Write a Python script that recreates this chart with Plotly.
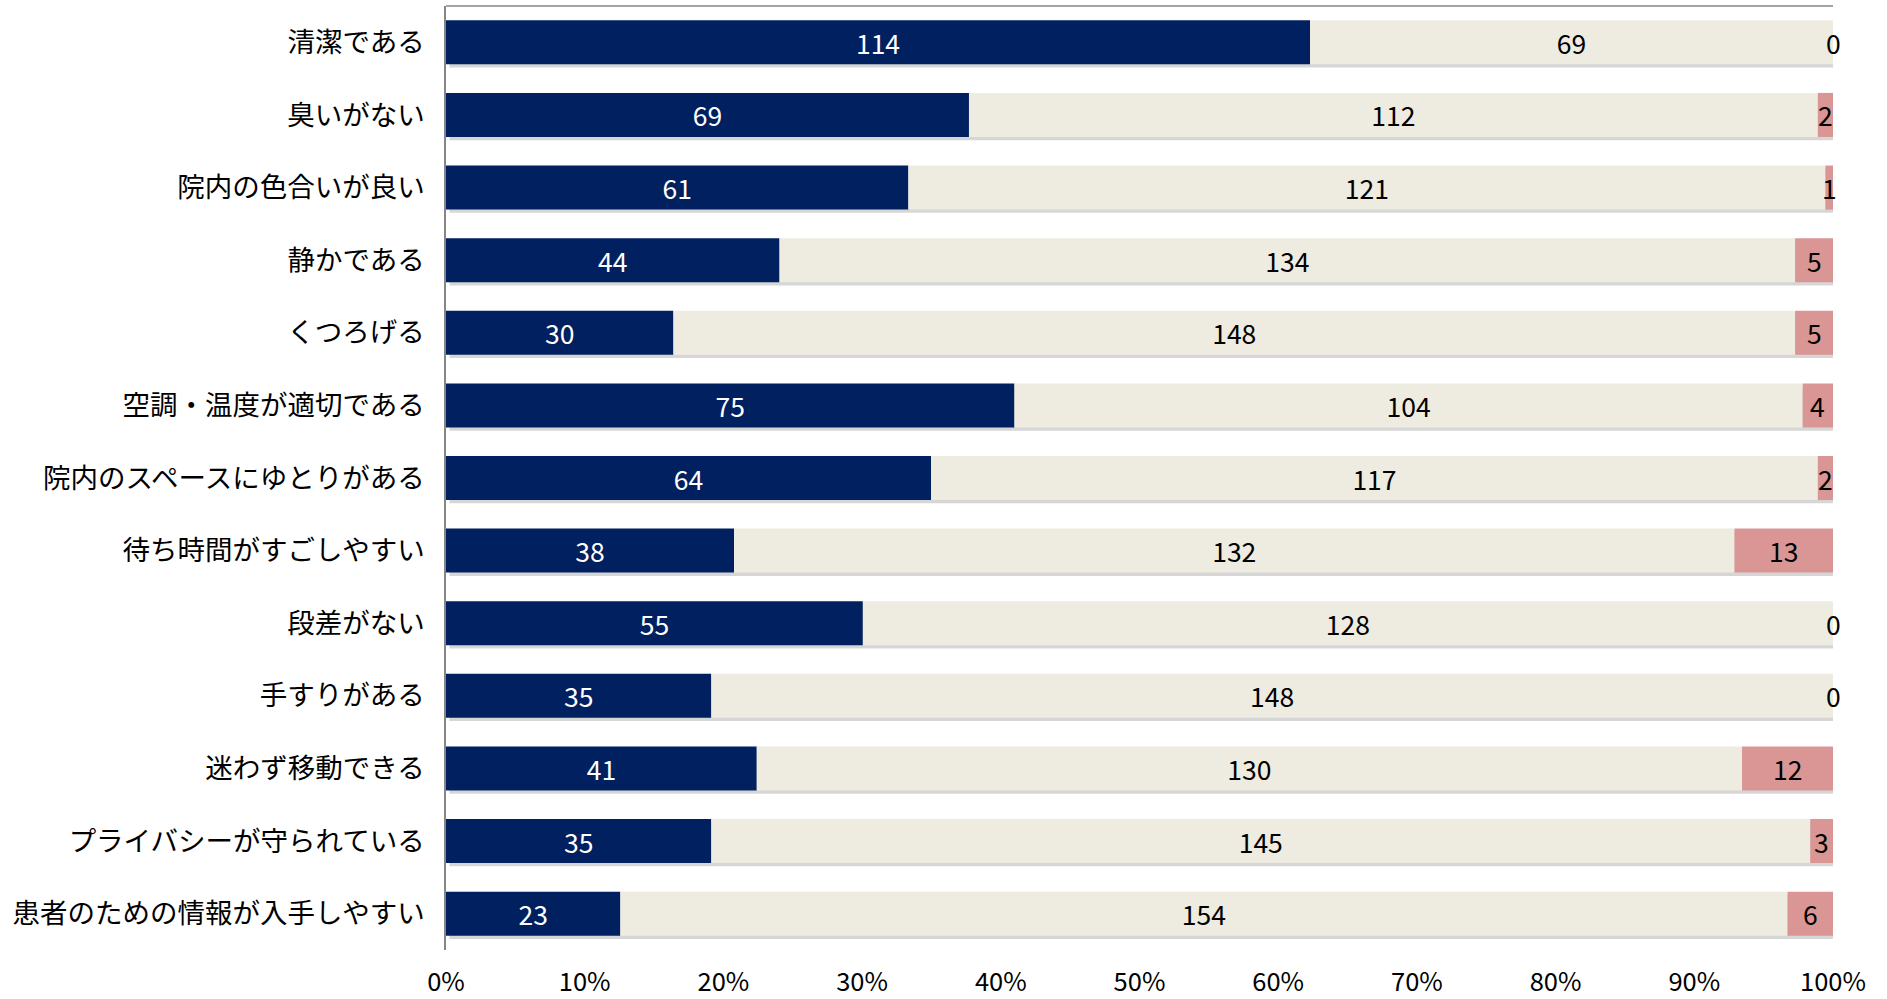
import plotly.graph_objects as go

categories = ["清潔である", "臭いがない", "院内の色合いが良い", "静かである", "くつろげる",
              "空調・温度が適切である", "院内のスペースにゆとりがある", "待ち時間がすごしやすい",
              "段差がない", "手すりがある", "迷わず移動できる", "プライバシーが守られている",
              "患者のための情報が入手しやすい"]
series_a = [114, 69, 61, 44, 30, 75, 64, 38, 55, 35, 41, 35, 23]
series_b = [69, 112, 121, 134, 148, 104, 117, 132, 128, 148, 130, 145, 154]
series_c = [0, 2, 1, 5, 5, 4, 2, 13, 0, 0, 12, 3, 6]
tick_vals = [0, 10, 20, 30, 40, 50, 60, 70, 80, 90, 100]
tick_text = [f"{v}%" for v in tick_vals]

colors = ["#002060", "#EEEBE0", "#D99694"]
FONT = "Noto Sans CJK JP"
LABEL_SIZE = 26.5

totals = [a + b + c for a, b, c in zip(series_a, series_b, series_c)]
pa = [a / t * 100 for a, t in zip(series_a, totals)]
pb = [b / t * 100 for b, t in zip(series_b, totals)]
pc = [c / t * 100 for c, t in zip(series_c, totals)]

W = 0.606
fig = go.Figure()
# subtle shadow
fig.add_trace(go.Bar(y=categories, x=[100] * len(categories), base=[0.25] * len(categories),
                     orientation="h", width=W, offset=-W / 2 + 0.045,
                     marker=dict(color="rgba(0,0,0,0.16)", line=dict(width=0)),
                     hoverinfo="skip", showlegend=False))
fig.add_trace(go.Bar(y=categories, x=pa, base=[0] * len(categories), orientation="h",
                     width=W, offset=-W / 2,
                     marker=dict(color=colors[0], line=dict(width=0)),
                     text=[str(v) for v in series_a], textposition="inside", textangle=0,
                     insidetextanchor="middle", constraintext="none",
                     textfont=dict(color="white", size=LABEL_SIZE, family=FONT), showlegend=False))
fig.add_trace(go.Bar(y=categories, x=pb, base=pa, orientation="h",
                     width=W, offset=-W / 2,
                     marker=dict(color=colors[1], line=dict(width=0)),
                     text=[str(v) for v in series_b], textposition="inside", textangle=0,
                     insidetextanchor="middle", constraintext="none",
                     textfont=dict(color="black", size=LABEL_SIZE, family=FONT), showlegend=False))
base_c = [a + b for a, b in zip(pa, pb)]
fig.add_trace(go.Bar(y=categories, x=pc, base=base_c, orientation="h",
                     width=W, offset=-W / 2,
                     marker=dict(color=colors[2], line=dict(width=0)),
                     showlegend=False))

annotations = []
for cat, v, b0, p in zip(categories, series_c, base_c, pc):
    annotations.append(dict(x=b0 + p / 2, y=cat, xref="x", yref="y", text=str(v),
                            showarrow=False, xanchor="center", yanchor="middle",
                            font=dict(color="black", size=LABEL_SIZE, family=FONT)))

fig.update_layout(
    barmode="overlay",
    width=1887, height=999,
    margin=dict(l=446, r=54, t=6, b=49),
    paper_bgcolor="white", plot_bgcolor="white",
    font=dict(family=FONT, color="black"),
    annotations=annotations,
    shapes=[dict(type="line", xref="x", yref="paper", x0=0, x1=100, y0=1, y1=1,
                 line=dict(color="#868686", width=1.5))],
    xaxis=dict(range=[0, 100], tickvals=tick_vals, ticktext=tick_text, showgrid=False,
               zeroline=False, showline=False, ticks="", ticklabelstandoff=14,
               automargin=False,
               tickfont=dict(size=25.5, family=FONT, color="black")),
    yaxis=dict(autorange="reversed", showgrid=False, zeroline=False, showline=True,
               linecolor="#868686", linewidth=1.5, ticks="", ticklabelstandoff=14,
               automargin=False,
               tickfont=dict(size=27.5, family=FONT, color="black")),
)
fig.write_html("out.html", config={"displayModeBar": False},
               post_script="document.body.style.margin='0px';")
